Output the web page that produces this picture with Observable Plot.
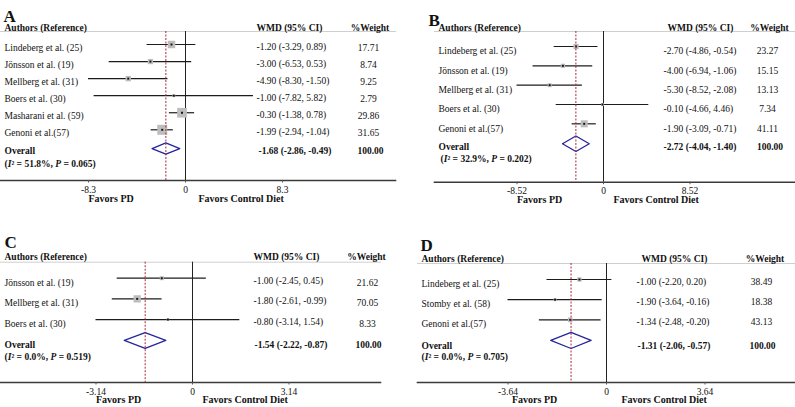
<!DOCTYPE html>
<html><head><meta charset="utf-8">
<script src="https://cdn.jsdelivr.net/npm/d3@7"></script>
<script src="https://cdn.jsdelivr.net/npm/@observablehq/plot@0.6"></script>
<style>
html,body{margin:0;padding:0;background:#fff;}
#root{position:relative;width:795px;height:407px;overflow:hidden;background:#fff;}
#root svg{position:absolute;}
</style></head><body><div id="root"></div>
<script>
// ---------- DATA ----------
const headers = ["Authors (Reference)", "WMD (95% CI)", "%Weight"];
const favorLabels = ["Favors PD", "Favors Control Diet"];

// Panel A
const namesA = ["Lindeberg et al. (25)", "Jönsson et al. (19)", "Mellberg et al. (31)", "Boers et al. (30)", "Masharani et al. (59)", "Genoni et al.(57)"];
const estA = [-1.20, -3.00, -4.90, -1.00, -0.30, -1.99];
const loA = [-3.29, -6.53, -8.30, -7.82, -1.38, -2.94];
const hiA = [0.89, 0.53, -1.50, 5.82, 0.78, -1.04];
const weightA = [17.71, 8.74, 9.25, 2.79, 29.86, 31.65];
const overallA = [-1.68, -2.86, -0.49];
const hetA = ["51.8%", "0.065"];
const ticksA = [-8.3, 0, 8.3];
const tickLabelsA = ["-8.3", "0", "8.3"];

// Panel B
const namesB = ["Lindeberg et al. (25)", "Jönsson et al. (19)", "Mellberg et al. (31)", "Boers et al. (30)", "Genoni et al.(57)"];
const estB = [-2.70, -4.00, -5.30, -0.10, -1.90];
const loB = [-4.86, -6.94, -8.52, -4.66, -3.09];
const hiB = [-0.54, -1.06, -2.08, 4.46, -0.71];
const weightB = [23.27, 15.15, 13.13, 7.34, 41.11];
const overallB = [-2.72, -4.04, -1.40];
const hetB = ["32.9%", "0.202"];
const ticksB = [-8.52, 0, 8.52];
const tickLabelsB = ["-8.52", "0", "8.52"];

// Panel C
const namesC = ["Jönsson et al. (19)", "Mellberg et al. (31)", "Boers et al. (30)"];
const estC = [-1.00, -1.80, -0.80];
const loC = [-2.45, -2.61, -3.14];
const hiC = [0.45, -0.99, 1.54];
const weightC = [21.62, 70.05, 8.33];
const overallC = [-1.54, -2.22, -0.87];
const hetC = ["0.0%", "0.519"];
const ticksC = [-3.14, 0, 3.14];
const tickLabelsC = ["-3.14", "0", "3.14"];

// Panel D
const namesD = ["Lindeberg et al. (25)", "Stomby et al. (58)", "Genoni et al.(57)"];
const estD = [-1.00, -1.90, -1.34];
const loD = [-2.20, -3.64, -2.48];
const hiD = [0.20, -0.16, -0.20];
const weightD = [38.49, 18.38, 43.13];
const overallD = [-1.31, -2.06, -0.57];
const hetD = ["0.0%", "0.705"];
const ticksD = [-3.64, 0, 3.64];
const tickLabelsD = ["-3.64", "0", "3.64"];

const totalWeight = 100;

// ---------- DRAW ----------
const FONT = '"Liberation Serif", "Times New Roman", Times, serif';
const fmt = v => v.toFixed(2);

function forest(p, L) {
  const rows = p.names.map((name, i) => ({
    name, row: i, est: p.est[i], lo: p.lo[i], hi: p.hi[i], w: p.weight[i],
    ci: `${fmt(p.est[i])} (${fmt(p.lo[i])}, ${fmt(p.hi[i])})`,
    wt: fmt(p.weight[i])
  }));
  const oy = L.overallRow;
  const [oe, ol, oh] = p.overall;
  const ov = [{row: oy, ci: `${fmt(oe)} (${fmt(ol)}, ${fmt(oh)})`, wt: fmt(totalWeight),
               het: `(I² = ${p.het[0]}, P = ${p.het[1]})`}];
  const diamond = [[ol, oy], [oe, oy - L.dh], [oh, oy], [oe, oy + L.dh], [ol, oy]];
  const tmax = p.ticks[p.ticks.length - 1];
  return Plot.plot({
    width: L.w, height: L.h,
    marginLeft: L.ml, marginRight: L.mr, marginTop: L.mt, marginBottom: L.mb,
    style: {fontFamily: FONT, fontSize: "9.5px", background: "transparent", overflow: "visible", color: "#111"},
    x: {domain: [-tmax, tmax], range: L.xr},
    y: {domain: [0, 1], range: [L.y0, L.y0 + L.step], axis: null},
    r: {type: "sqrt", domain: [0, 100], range: [0, L.rmax]},
    marks: [
      Plot.frame({anchor: "top", stroke: "#cfcfcf", strokeWidth: 1}),
      Plot.frame({anchor: "bottom", stroke: "#3a3a3a", strokeWidth: 1.6}),
      Plot.ruleX([0], {stroke: "#222", strokeWidth: 1}),
      Plot.ruleY(rows, {y: "row", x1: "lo", x2: "hi", stroke: "#1c1c1c", strokeWidth: 1.2}),
      Plot.dot(rows, {x: "est", y: "row", r: "w", symbol: "square", fill: "#bdbdbd"}),
      Plot.dot(rows, {x: "est", y: "row", r: 1.1, symbol: "square", fill: "#111"}),
      Plot.line(diamond, {x: d => d[0], y: d => d[1], stroke: "#25259c", strokeWidth: 1.3, fill: "none"}),
      Plot.ruleX([oe], {stroke: "#a8283c", strokeDasharray: "2,1.5", strokeWidth: 1}),
      Plot.axisX({ticks: p.ticks, tickFormat: d => p.tickLabels[p.ticks.indexOf(d)], tickSize: 2.5, tickPadding: L.tickPad, label: null, fontSize: 9.5, stroke: "#555"}),
      // panel letter
      Plot.text([p.letter], {text: d => d, frameAnchor: "top-left", textAnchor: "start", dx: L.letter[0], dy: L.letter[1], fontSize: 17, fontWeight: "bold"}),
      // headers
      Plot.text([headers[0]], {text: d => d, frameAnchor: "top-left", textAnchor: "start", dx: 4, dy: L.dyHead, fontWeight: "bold"}),
      Plot.text([headers[1]], {text: d => d, frameAnchor: "top-left", textAnchor: "start", dx: L.hWmd, dy: L.dyHead, fontWeight: "bold"}),
      Plot.text([headers[2]], {text: d => d, frameAnchor: "top-left", textAnchor: "middle", dx: L.hWt, dy: L.dyHead, fontWeight: "bold"}),
      // rows
      Plot.text(rows, {y: "row", text: "name", frameAnchor: "left", textAnchor: "start", dx: 4, dy: L.dyName}),
      Plot.text(rows, {y: "row", text: "ci", frameAnchor: "left", textAnchor: "start", dx: L.cWmd, dy: L.dyWmd}),
      Plot.text(rows, {y: "row", text: "wt", frameAnchor: "left", textAnchor: "middle", dx: L.cWt, dy: L.dyWt}),
      // overall
      Plot.text(ov, {y: "row", text: () => "Overall", frameAnchor: "left", textAnchor: "start", dx: 4, dy: L.dyOv, fontWeight: "bold"}),
      Plot.text(ov, {y: "row", text: "het", frameAnchor: "left", textAnchor: "start", dx: L.dxHet, dy: L.dyHet, fontWeight: "bold"}),
      Plot.text(ov, {y: "row", text: "ci", frameAnchor: "left", textAnchor: "start", dx: L.cWmdO, dy: L.dyOv, fontWeight: "bold"}),
      Plot.text(ov, {y: "row", text: "wt", frameAnchor: "left", textAnchor: "middle", dx: L.cWtO, dy: L.dyOv, fontWeight: "bold"}),
      // favors
      Plot.text([favorLabels[0]], {x: () => -tmax, text: d => d, frameAnchor: "bottom", textAnchor: "start", dx: L.favPD, dy: L.dyFav, fontWeight: "bold", fontSize: 10}),
      Plot.text([favorLabels[1]], {x: () => 0, text: d => d, frameAnchor: "bottom", textAnchor: "start", dx: L.favC, dy: L.dyFav, fontWeight: "bold", fontSize: 10})
    ]
  });
}

function italicize(svg) {
  svg.querySelectorAll("text").forEach(t => {
    const s = t.textContent;
    if (!s.startsWith("(I")) return;
    const parts = s.split(/(I(?=²)|P(?= =))/);
    t.textContent = "";
    parts.forEach((part, i) => {
      const ts = document.createElementNS("http://www.w3.org/2000/svg", "tspan");
      ts.textContent = part;
      if (i % 2 === 1) ts.setAttribute("font-style", "italic");
      t.appendChild(ts);
    });
  });
}

const panels = [
  {p: {letter: "A", names: namesA, est: estA, lo: loA, hi: hiA, weight: weightA, overall: overallA, het: hetA, ticks: ticksA, tickLabels: tickLabelsA},
   L: {left: 0, top: 0, w: 395, h: 205, ml: 0, mr: 0, mt: 31, mb: 25, xr: [88, 282], y0: 44, step: 17.06, rmax: 10, overallRow: 6.1, dh: 0.33,
       letter: [3, -22], dyHead: -7, hWmd: 256, hWt: 369.5, dyName: 3.5, cWmd: 256, dyWmd: 2.5, cWt: 368, dyWt: 3,
       dyOv: 2, dyHet: 15, dxHet: 4, cWmdO: 258, cWtO: 370, tickPad: 3, dyFav: 21, favPD: 0, favC: 13}},
  {p: {letter: "B", names: namesB, est: estB, lo: loB, hi: hiB, weight: weightB, overall: overallB, het: hetB, ticks: ticksB, tickLabels: tickLabelsB},
   L: {left: 395, top: 0, w: 400, h: 205, ml: 39, mr: 0, mt: 31, mb: 23.3, xr: [121.5, 294.5], y0: 46, step: 19.33, rmax: 6.2, overallRow: 5.03, dh: 0.4,
       letter: [-6, -18], dyHead: -7, hWmd: 233, hWt: 335, dyName: 4.7, cWmd: 229, dyWmd: 4.7, cWt: 333, dyWt: 4.7,
       dyOv: 3.4, dyHet: 15.4, dxHet: 6, cWmdO: 229, cWtO: 335.5, tickPad: 2.5, dyFav: 20.5, favPD: 0, favC: 10}},
  {p: {letter: "C", names: namesC, est: estC, lo: loC, hi: hiC, weight: weightC, overall: overallC, het: hetC, ticks: ticksC, tickLabels: tickLabelsC},
   L: {left: 0, top: 205, w: 395, h: 202, ml: 0, mr: 15, mt: 56.7, mb: 25, xr: [95.5, 288.5], y0: 72.7, step: 20.67, rmax: 4.9, overallRow: 3.01, dh: 0.38,
       letter: [4, -26], dyHead: -8.7, hWmd: 253, hWt: 366, dyName: 4.3, cWmd: 253, dyWmd: 2.3, cWt: 367, dyWt: 4.3,
       dyOv: 5, dyHet: 16.7, dxHet: 4, cWmdO: 254, cWtO: 368, tickPad: 3.5, dyFav: 20, favPD: 0, favC: 10}},
  {p: {letter: "D", names: namesD, est: estD, lo: loD, hi: hiD, weight: weightD, overall: overallD, het: hetD, ticks: ticksD, tickLabels: tickLabelsD},
   L: {left: 395, top: 205, w: 400, h: 202, ml: 22, mr: 0, mt: 58, mb: 25, xr: [112.5, 309.5], y0: 74, step: 20.17, rmax: 4, overallRow: 3.02, dh: 0.4,
       letter: [3, -25], dyHead: -8.7, hWmd: 224, hWt: 347.5, dyName: 4.3, cWmd: 219, dyWmd: 2, cWt: 344, dyWt: 2,
       dyOv: 5.7, dyHet: 16.7, dxHet: 4, cWmdO: 220, cWtO: 345, tickPad: 3.5, dyFav: 20, favPD: 4, favC: 15}}
];

const root = document.getElementById("root");
for (const {p, L} of panels) {
  const svg = forest(p, L);
  svg.style.left = L.left + "px";
  svg.style.top = L.top + "px";
  svg.style.position = "absolute";
  italicize(svg);
  root.appendChild(svg);
}
</script>
</body></html>
